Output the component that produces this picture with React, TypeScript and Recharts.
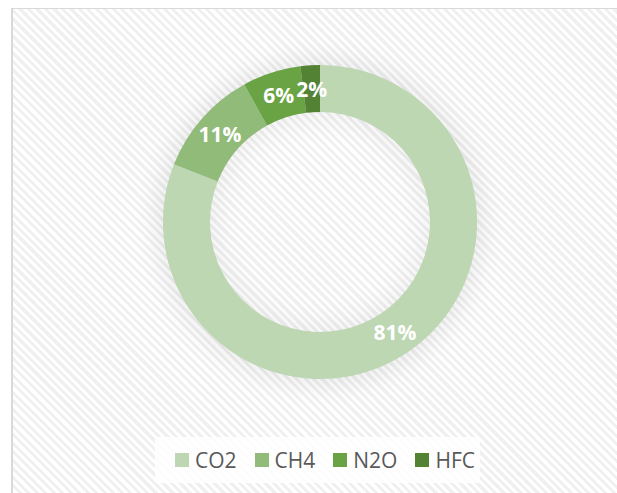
import React from 'react';
import { PieChart, Pie, Cell, Legend } from 'recharts';

// Gas shares (%)
const gases = ['CO2', 'CH4', 'N2O', 'HFC'];
const shares = [81, 11, 6, 2];
const colors = ['#bdd7b2', '#91bb79', '#6aa343', '#548235'];

const data = gases.map((name, i) => ({ name, value: shares[i] }));

const RADIAN = Math.PI / 180;
const FONT = '"Open Sans", "Noto Sans", sans-serif';

const renderLabel = (props: any) => {
    const { cx, cy, midAngle, innerRadius, outerRadius, value } = props;
    const r = (innerRadius + outerRadius) / 2;
    const x = cx + r * Math.cos(-midAngle * RADIAN);
    const y = cy + r * Math.sin(-midAngle * RADIAN);
    return (
        <text
            x={x}
            y={y}
            fill="#ffffff"
            textAnchor="middle"
            dominantBaseline="central"
            style={{ fontFamily: FONT, fontWeight: 700, fontSize: 21 }}
        >
            {`${value}%`}
        </text>
    );
};

const renderLegend = () => (
    <div
        style={{
            display: 'flex',
            alignItems: 'center',
            height: 46,
            paddingLeft: 20,
            background: 'rgba(255,255,255,0.85)',
            fontFamily: FONT,
            fontSize: 21,
            color: '#595959',
        }}
    >
        {gases.map((g, i) => (
            <div key={g} style={{ display: 'flex', alignItems: 'center', marginRight: 18 }}>
                <span style={{ width: 14, height: 14, background: colors[i], marginRight: 6, display: 'inline-block' }} />
                <span style={{ lineHeight: '20px' }}>{g}</span>
            </div>
        ))}
    </div>
);

export default function App() {
    return (
        <div style={{ position: 'absolute', left: 0, top: 0, width: 617, height: 493, background: '#fff', overflow: 'hidden' }}>
            <div
                style={{
                    position: 'absolute',
                    left: 11,
                    top: 8,
                    width: 620,
                    height: 500,
                    borderLeft: '2px solid #d9d9d9',
                    borderTop: '1px solid #d9d9d9',
                    background: 'repeating-linear-gradient(45deg, #ffffff 0px, #ffffff 3px, #f0f0f0 3px, #f0f0f0 6px)',
                }}
            />
            {/* soft shadow round the ring */}
            <div
                style={{
                    position: 'absolute',
                    left: 320 - 157,
                    top: 222 - 157,
                    width: 314,
                    height: 314,
                    borderRadius: '50%',
                    boxShadow: '0 0 24px 6px rgba(0,0,0,0.08), inset 0 0 0 47px rgba(0,0,0,0.05), inset 0 0 30px 52px rgba(0,0,0,0.06)',
                }}
            />
            <div style={{ position: 'absolute', left: 0, top: 0 }}>
                <PieChart width={617} height={493} margin={{ top: 0, right: 0, bottom: 0, left: 0 }}>
                    <Pie
                        data={data}
                        dataKey="value"
                        nameKey="name"
                        cx={320}
                        cy={222}
                        innerRadius={110}
                        outerRadius={157}
                        startAngle={90}
                        endAngle={-270}
                        stroke="none"
                        label={renderLabel}
                        labelLine={false}
                        isAnimationActive={false}
                    >
                        {data.map((entry, index) => (
                            <Cell key={`cell-${index}`} fill={colors[index]} />
                        ))}
                    </Pie>
                    <Legend
                        content={renderLegend}
                        wrapperStyle={{ left: 155, top: 437, width: 325, height: 46 }}
                    />
                </PieChart>
            </div>
        </div>
    );
}
